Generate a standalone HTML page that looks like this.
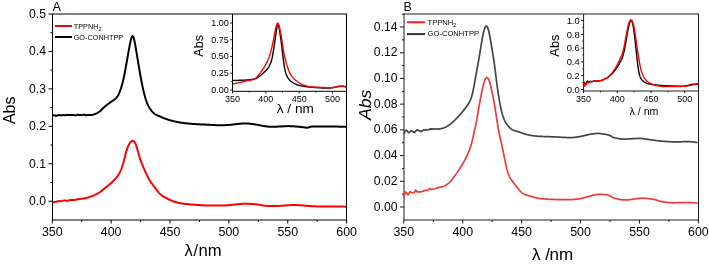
<!DOCTYPE html>
<html><head><meta charset="utf-8"><style>
html,body{margin:0;padding:0;background:#fff;width:709px;height:265px;overflow:hidden}
svg{display:block;will-change:transform}
</style></head><body>
<svg width="709" height="265" viewBox="0 0 709 265">
<rect width="709" height="265" fill="#fff"/>
<line x1="52" y1="14" x2="347" y2="14" stroke="#000" stroke-width="1"/>
<line x1="52" y1="220" x2="347" y2="220" stroke="#000" stroke-width="1"/>
<line x1="52.5" y1="14" x2="52.5" y2="220" stroke="#000" stroke-width="1"/>
<line x1="346.5" y1="14" x2="346.5" y2="220" stroke="#000" stroke-width="1"/>
<line x1="52.3" y1="220" x2="52.3" y2="223.5" stroke="#000" stroke-width="1"/>
<text x="52.3" y="236.1" font-size="12.4" text-anchor="middle" fill="#000" font-family="Liberation Sans, sans-serif" >350</text>
<line x1="81.73" y1="220" x2="81.73" y2="222" stroke="#000" stroke-width="1"/>
<line x1="111.16" y1="220" x2="111.16" y2="223.5" stroke="#000" stroke-width="1"/>
<text x="111.16" y="236.1" font-size="12.4" text-anchor="middle" fill="#000" font-family="Liberation Sans, sans-serif" >400</text>
<line x1="140.59" y1="220" x2="140.59" y2="222" stroke="#000" stroke-width="1"/>
<line x1="170.02" y1="220" x2="170.02" y2="223.5" stroke="#000" stroke-width="1"/>
<text x="170.02" y="236.1" font-size="12.4" text-anchor="middle" fill="#000" font-family="Liberation Sans, sans-serif" >450</text>
<line x1="199.45" y1="220" x2="199.45" y2="222" stroke="#000" stroke-width="1"/>
<line x1="228.88" y1="220" x2="228.88" y2="223.5" stroke="#000" stroke-width="1"/>
<text x="228.88" y="236.1" font-size="12.4" text-anchor="middle" fill="#000" font-family="Liberation Sans, sans-serif" >500</text>
<line x1="258.31" y1="220" x2="258.31" y2="222" stroke="#000" stroke-width="1"/>
<line x1="287.74" y1="220" x2="287.74" y2="223.5" stroke="#000" stroke-width="1"/>
<text x="287.74" y="236.1" font-size="12.4" text-anchor="middle" fill="#000" font-family="Liberation Sans, sans-serif" >550</text>
<line x1="317.17" y1="220" x2="317.17" y2="222" stroke="#000" stroke-width="1"/>
<line x1="346.6" y1="220" x2="346.6" y2="223.5" stroke="#000" stroke-width="1"/>
<text x="346.6" y="236.1" font-size="12.4" text-anchor="middle" fill="#000" font-family="Liberation Sans, sans-serif" >600</text>
<line x1="48.5" y1="201.2" x2="52.5" y2="201.2" stroke="#000" stroke-width="1"/>
<text x="46" y="205" font-size="12.2" text-anchor="end" fill="#000" font-family="Liberation Sans, sans-serif" >0.0</text>
<line x1="50.5" y1="182.48" x2="52.5" y2="182.48" stroke="#000" stroke-width="1"/>
<line x1="48.5" y1="163.76" x2="52.5" y2="163.76" stroke="#000" stroke-width="1"/>
<text x="46" y="167.56" font-size="12.2" text-anchor="end" fill="#000" font-family="Liberation Sans, sans-serif" >0.1</text>
<line x1="50.5" y1="145.04" x2="52.5" y2="145.04" stroke="#000" stroke-width="1"/>
<line x1="48.5" y1="126.32" x2="52.5" y2="126.32" stroke="#000" stroke-width="1"/>
<text x="46" y="130.12" font-size="12.2" text-anchor="end" fill="#000" font-family="Liberation Sans, sans-serif" >0.2</text>
<line x1="50.5" y1="107.6" x2="52.5" y2="107.6" stroke="#000" stroke-width="1"/>
<line x1="48.5" y1="88.88" x2="52.5" y2="88.88" stroke="#000" stroke-width="1"/>
<text x="46" y="92.68" font-size="12.2" text-anchor="end" fill="#000" font-family="Liberation Sans, sans-serif" >0.3</text>
<line x1="50.5" y1="70.16" x2="52.5" y2="70.16" stroke="#000" stroke-width="1"/>
<line x1="48.5" y1="51.44" x2="52.5" y2="51.44" stroke="#000" stroke-width="1"/>
<text x="46" y="55.24" font-size="12.2" text-anchor="end" fill="#000" font-family="Liberation Sans, sans-serif" >0.4</text>
<line x1="50.5" y1="32.72" x2="52.5" y2="32.72" stroke="#000" stroke-width="1"/>
<line x1="48.5" y1="14" x2="52.5" y2="14" stroke="#000" stroke-width="1"/>
<text x="46" y="17.8" font-size="12.2" text-anchor="end" fill="#000" font-family="Liberation Sans, sans-serif" >0.5</text>
<text x="52.4" y="10.6" font-size="12.5" text-anchor="start" fill="#000" font-family="Liberation Sans, sans-serif" >A</text>
<text transform="translate(15.0,110.3) rotate(-90)" font-size="16" text-anchor="middle" font-family="Liberation Sans, sans-serif">Abs</text>
<text x="184.6" y="255.8" font-size="16.4" text-anchor="start" fill="#000" font-family="Liberation Sans, sans-serif" >λ</text>
<text x="193.4" y="255.8" font-size="16.4" text-anchor="start" fill="#000" font-family="Liberation Sans, sans-serif" >/</text>
<text x="198.6" y="255.8" font-size="16.6" text-anchor="start" fill="#000" font-family="Liberation Sans, sans-serif" >nm</text>
<line x1="55" y1="26" x2="72" y2="26" stroke="#ff0000" stroke-width="2"/>
<line x1="55" y1="37" x2="72" y2="37" stroke="#000" stroke-width="2"/>
<text x="73.7" y="28.7" font-size="7.3" font-family="Liberation Sans, sans-serif">TPPNH<tspan font-size="5.2" dy="2">2</tspan></text>
<text x="73.7" y="39.6" font-size="7.3" text-anchor="start" fill="#000" font-family="Liberation Sans, sans-serif" >GO-CONHTPP</text>
<path d="M52.50,115.21 L53.00,115.24 L53.50,115.27 L54.00,115.30 L54.50,115.42 L55.00,115.56 L55.50,115.71 L56.00,115.72 L56.50,115.64 L57.00,115.56 L57.50,115.45 L58.00,115.30 L58.50,115.15 L59.00,115.04 L59.50,115.12 L60.00,115.20 L60.50,115.28 L61.00,115.28 L61.50,115.28 L62.00,115.28 L62.50,115.20 L63.00,115.09 L63.50,114.99 L64.00,115.04 L64.50,115.19 L65.00,115.34 L65.50,115.35 L66.00,115.16 L66.50,114.98 L67.00,114.84 L67.50,114.91 L68.00,114.97 L68.50,115.04 L69.00,115.06 L69.50,115.08 L70.00,115.11 L70.50,115.08 L71.00,115.04 L71.50,115.00 L72.00,115.00 L72.50,115.03 L73.00,115.05 L73.50,115.08 L74.00,115.11 L74.50,115.13 L75.00,115.17 L75.50,115.22 L76.00,115.27 L76.50,115.32 L77.00,115.13 L77.50,114.94 L78.00,114.75 L78.50,114.80 L79.00,114.90 L79.50,115.01 L80.00,115.07 L80.50,115.09 L81.00,115.11 L81.50,115.08 L82.00,114.98 L82.50,114.88 L83.00,114.78 L83.50,114.71 L84.00,114.63 L84.50,114.56 L85.00,114.84 L85.50,115.13 L86.00,115.41 L86.50,115.32 L87.00,115.14 L87.50,114.96 L88.00,114.90 L88.50,114.93 L89.00,114.95 L89.50,115.01 L90.00,115.09 L90.50,115.12 L91.00,115.08 L91.50,114.97 L92.00,114.86 L92.50,114.77 L93.00,114.66 L93.50,114.53 L94.00,114.38 L94.50,114.21 L95.00,114.01 L95.50,113.80 L96.00,113.57 L96.50,113.33 L97.00,113.08 L97.50,112.81 L98.00,112.52 L98.50,112.21 L99.00,111.87 L99.50,111.50 L100.00,111.10 L100.50,110.66 L101.00,110.20 L101.50,109.72 L102.00,109.23 L102.50,108.74 L103.00,108.26 L103.50,107.79 L104.00,107.33 L104.50,106.88 L105.00,106.44 L105.50,106.02 L106.00,105.61 L106.50,105.21 L107.00,104.82 L107.50,104.43 L108.00,104.06 L108.50,103.69 L109.00,103.32 L109.50,102.96 L110.00,102.61 L110.50,102.25 L111.00,101.90 L111.50,101.56 L112.00,101.21 L112.50,100.87 L113.00,100.53 L113.50,100.18 L114.00,99.82 L114.50,99.44 L115.00,99.03 L115.50,98.59 L116.00,98.10 L116.50,97.56 L117.00,96.96 L117.50,96.29 L118.00,95.51 L118.50,94.63 L119.00,93.62 L119.50,92.46 L120.00,91.17 L120.50,89.75 L121.00,88.23 L121.50,86.60 L122.00,84.87 L122.50,83.02 L123.00,81.03 L123.50,78.88 L124.00,76.58 L124.50,74.11 L125.00,71.51 L125.50,68.81 L126.00,66.04 L126.50,63.22 L127.00,60.37 L127.50,57.51 L128.00,54.67 L128.50,51.85 L129.00,49.08 L129.50,46.39 L130.00,43.83 L130.50,41.46 L131.00,39.38 L131.50,37.70 L132.00,36.56 L132.50,36.09 L133.00,36.34 L133.50,37.33 L134.00,38.96 L134.50,41.12 L135.00,43.67 L135.50,46.47 L136.00,49.41 L136.50,52.41 L137.00,55.43 L137.50,58.44 L138.00,61.44 L138.50,64.43 L139.00,67.40 L139.50,70.35 L140.00,73.25 L140.50,76.07 L141.00,78.81 L141.50,81.45 L142.00,83.98 L142.50,86.40 L143.00,88.70 L143.50,90.89 L144.00,92.96 L144.50,94.92 L145.00,96.76 L145.50,98.46 L146.00,100.03 L146.50,101.46 L147.00,102.77 L147.50,103.98 L148.00,105.08 L148.50,106.10 L149.00,107.04 L149.50,107.91 L150.00,108.70 L150.50,109.44 L151.00,110.11 L151.50,110.73 L152.00,111.32 L152.50,111.86 L153.00,112.37 L153.50,112.84 L154.00,113.28 L154.50,113.68 L155.00,114.05 L155.50,114.38 L156.00,114.69 L156.50,114.97 L157.00,115.22 L157.50,115.46 L158.00,115.68 L158.50,115.89 L159.00,116.10 L159.50,116.30 L160.00,116.51 L160.50,116.72 L161.00,116.93 L161.50,117.14 L162.00,117.35 L162.50,117.56 L163.00,117.76 L163.50,117.97 L164.00,118.17 L164.50,118.37 L165.00,118.56 L165.50,118.75 L166.00,118.94 L166.50,119.11 L167.00,119.28 L167.50,119.45 L168.00,119.61 L168.50,119.77 L169.00,119.92 L169.50,120.07 L170.00,120.22 L170.50,120.36 L171.00,120.50 L171.50,120.64 L172.00,120.77 L172.50,120.90 L173.00,121.03 L173.50,121.15 L174.00,121.27 L174.50,121.39 L175.00,121.50 L175.50,121.62 L176.00,121.73 L176.50,121.83 L177.00,121.94 L177.50,122.04 L178.00,122.14 L178.50,122.24 L179.00,122.33 L179.50,122.42 L180.00,122.51 L180.50,122.59 L181.00,122.66 L181.50,122.73 L182.00,122.80 L182.50,122.87 L183.00,122.93 L183.50,123.00 L184.00,123.06 L184.50,123.12 L185.00,123.17 L185.50,123.23 L186.00,123.29 L186.50,123.34 L187.00,123.39 L187.50,123.45 L188.00,123.50 L188.50,123.55 L189.00,123.59 L189.50,123.64 L190.00,123.69 L190.50,123.73 L191.00,123.77 L191.50,123.81 L192.00,123.86 L192.50,123.90 L193.00,123.93 L193.50,123.97 L194.00,124.01 L194.50,124.04 L195.00,124.08 L195.50,124.11 L196.00,124.14 L196.50,124.17 L197.00,124.20 L197.50,124.23 L198.00,124.26 L198.50,124.29 L199.00,124.32 L199.50,124.34 L200.00,124.37 L200.50,124.39 L201.00,124.42 L201.50,124.44 L202.00,124.47 L202.50,124.49 L203.00,124.51 L203.50,124.54 L204.00,124.56 L204.50,124.58 L205.00,124.60 L205.50,124.62 L206.00,124.65 L206.50,124.67 L207.00,124.69 L207.50,124.71 L208.00,124.74 L208.50,124.76 L209.00,124.78 L209.50,124.81 L210.00,124.83 L210.50,124.86 L211.00,124.89 L211.50,124.91 L212.00,124.94 L212.50,124.97 L213.00,125.00 L213.50,125.03 L214.00,125.06 L214.50,125.09 L215.00,125.11 L215.50,125.14 L216.00,125.16 L216.50,125.19 L217.00,125.21 L217.50,125.23 L218.00,125.25 L218.50,125.26 L219.00,125.27 L219.50,125.28 L220.00,125.29 L220.50,125.29 L221.00,125.29 L221.50,125.28 L222.00,125.28 L222.50,125.26 L223.00,125.25 L223.50,125.23 L224.00,125.21 L224.50,125.19 L225.00,125.16 L225.50,125.14 L226.00,125.11 L226.50,125.08 L227.00,125.04 L227.50,125.01 L228.00,124.98 L228.50,124.94 L229.00,124.91 L229.50,124.87 L230.00,124.83 L230.50,124.79 L231.00,124.75 L231.50,124.70 L232.00,124.65 L232.50,124.59 L233.00,124.53 L233.50,124.47 L234.00,124.40 L234.50,124.34 L235.00,124.27 L235.50,124.20 L236.00,124.14 L236.50,124.08 L237.00,124.01 L237.50,123.96 L238.00,123.90 L238.50,123.85 L239.00,123.81 L239.50,123.77 L240.00,123.72 L240.50,123.68 L241.00,123.65 L241.50,123.61 L242.00,123.57 L242.50,123.54 L243.00,123.51 L243.50,123.48 L244.00,123.46 L244.50,123.44 L245.00,123.43 L245.50,123.42 L246.00,123.42 L246.50,123.43 L247.00,123.45 L247.50,123.48 L248.00,123.51 L248.50,123.55 L249.00,123.60 L249.50,123.66 L250.00,123.71 L250.50,123.78 L251.00,123.84 L251.50,123.90 L252.00,123.97 L252.50,124.04 L253.00,124.10 L253.50,124.17 L254.00,124.24 L254.50,124.31 L255.00,124.39 L255.50,124.46 L256.00,124.54 L256.50,124.63 L257.00,124.71 L257.50,124.80 L258.00,124.90 L258.50,125.00 L259.00,125.10 L259.50,125.20 L260.00,125.31 L260.50,125.42 L261.00,125.52 L261.50,125.63 L262.00,125.73 L262.50,125.82 L263.00,125.91 L263.50,125.99 L264.00,126.07 L264.50,126.15 L265.00,126.22 L265.50,126.29 L266.00,126.35 L266.50,126.42 L267.00,126.48 L267.50,126.54 L268.00,126.59 L268.50,126.64 L269.00,126.68 L269.50,126.72 L270.00,126.74 L270.50,126.76 L271.00,126.78 L271.50,126.78 L272.00,126.78 L272.50,126.78 L273.00,126.77 L273.50,126.76 L274.00,126.75 L274.50,126.73 L275.00,126.71 L275.50,126.70 L276.00,126.68 L276.50,126.65 L277.00,126.63 L277.50,126.61 L278.00,126.59 L278.50,126.57 L279.00,126.54 L279.50,126.52 L280.00,126.50 L280.50,126.47 L281.00,126.45 L281.50,126.42 L282.00,126.39 L282.50,126.36 L283.00,126.33 L283.50,126.30 L284.00,126.27 L284.50,126.24 L285.00,126.21 L285.50,126.18 L286.00,126.16 L286.50,126.14 L287.00,126.13 L287.50,126.12 L288.00,126.11 L288.50,126.11 L289.00,126.12 L289.50,126.13 L290.00,126.14 L290.50,126.16 L291.00,126.18 L291.50,126.20 L292.00,126.23 L292.50,126.25 L293.00,126.29 L293.50,126.32 L294.00,126.35 L294.50,126.39 L295.00,126.43 L295.50,126.47 L296.00,126.51 L296.50,126.55 L297.00,126.59 L297.50,126.64 L298.00,126.68 L298.50,126.72 L299.00,126.77 L299.50,126.82 L300.00,126.87 L300.50,126.92 L301.00,126.98 L301.50,127.04 L302.00,127.10 L302.50,127.17 L303.00,127.23 L303.50,127.30 L304.00,127.36 L304.50,127.42 L305.00,127.48 L305.50,127.54 L306.00,127.59 L306.50,127.63 L307.00,127.65 L307.50,127.65 L308.00,127.59 L308.50,127.49 L309.00,127.33 L309.50,127.14 L310.00,126.95 L310.50,126.78 L311.00,126.66 L311.50,126.58 L312.00,126.53 L312.50,126.51 L313.00,126.50 L313.50,126.50 L314.00,126.50 L314.50,126.50 L315.00,126.50 L315.50,126.50 L316.00,126.50 L316.50,126.50 L317.00,126.50 L317.50,126.50 L318.00,126.50 L318.50,126.50 L319.00,126.50 L319.50,126.50 L320.00,126.50 L320.50,126.50 L321.00,126.50 L321.50,126.50 L322.00,126.50 L322.50,126.50 L323.00,126.50 L323.50,126.50 L324.00,126.50 L324.50,126.50 L325.00,126.50 L325.50,126.50 L326.00,126.50 L326.50,126.50 L327.00,126.50 L327.50,126.50 L328.00,126.50 L328.50,126.50 L329.00,126.50 L329.50,126.51 L330.00,126.51 L330.50,126.51 L331.00,126.52 L331.50,126.52 L332.00,126.52 L332.50,126.53 L333.00,126.54 L333.50,126.54 L334.00,126.55 L334.50,126.56 L335.00,126.56 L335.50,126.57 L336.00,126.58 L336.50,126.59 L337.00,126.60 L337.50,126.61 L338.00,126.62 L338.50,126.63 L339.00,126.64 L339.50,126.65 L340.00,126.66 L340.50,126.67 L341.00,126.68 L341.50,126.69 L342.00,126.70 L342.50,126.72 L343.00,126.73 L343.50,126.74 L344.00,126.75 L344.50,126.76 L345.00,126.77 L345.50,126.78 L346.00,126.79" fill="none" stroke="#000" stroke-width="2.0" stroke-linejoin="round"/>
<path d="M52.50,202.20 L53.00,202.18 L53.50,202.15 L54.00,202.11 L54.50,202.01 L55.00,201.90 L55.50,201.78 L56.00,201.67 L56.50,201.57 L57.00,201.47 L57.50,201.36 L58.00,201.26 L58.50,201.15 L59.00,201.07 L59.50,201.11 L60.00,201.14 L60.50,201.17 L61.00,201.13 L61.50,201.09 L62.00,201.04 L62.50,200.92 L63.00,200.77 L63.50,200.63 L64.00,200.54 L64.50,200.49 L65.00,200.44 L65.50,200.48 L66.00,200.66 L66.50,200.84 L67.00,200.95 L67.50,200.81 L68.00,200.66 L68.50,200.52 L69.00,200.35 L69.50,200.19 L70.00,200.02 L70.50,199.98 L71.00,199.96 L71.50,199.95 L72.00,199.99 L72.50,200.06 L73.00,200.13 L73.50,200.14 L74.00,200.05 L74.50,199.97 L75.00,199.89 L75.50,199.81 L76.00,199.73 L76.50,199.62 L77.00,199.43 L77.50,199.28 L78.00,199.15 L78.50,199.09 L79.00,199.04 L79.50,198.99 L80.00,198.93 L80.50,198.87 L81.00,198.81 L81.50,198.75 L82.00,198.69 L82.50,198.63 L83.00,198.57 L83.50,198.51 L84.00,198.43 L84.50,198.35 L85.00,198.26 L85.50,198.16 L86.00,198.04 L86.50,197.91 L87.00,197.77 L87.50,197.62 L88.00,197.47 L88.50,197.30 L89.00,197.14 L89.50,196.97 L90.00,196.80 L90.50,196.63 L91.00,196.46 L91.50,196.29 L92.00,196.12 L92.50,195.94 L93.00,195.76 L93.50,195.57 L94.00,195.37 L94.50,195.16 L95.00,194.94 L95.50,194.71 L96.00,194.47 L96.50,194.22 L97.00,193.95 L97.50,193.66 L98.00,193.37 L98.50,193.06 L99.00,192.75 L99.50,192.42 L100.00,192.08 L100.50,191.73 L101.00,191.37 L101.50,190.99 L102.00,190.60 L102.50,190.20 L103.00,189.79 L103.50,189.37 L104.00,188.95 L104.50,188.52 L105.00,188.10 L105.50,187.69 L106.00,187.28 L106.50,186.87 L107.00,186.48 L107.50,186.08 L108.00,185.68 L108.50,185.28 L109.00,184.88 L109.50,184.47 L110.00,184.05 L110.50,183.62 L111.00,183.18 L111.50,182.73 L112.00,182.27 L112.50,181.80 L113.00,181.32 L113.50,180.82 L114.00,180.30 L114.50,179.77 L115.00,179.22 L115.50,178.65 L116.00,178.05 L116.50,177.42 L117.00,176.77 L117.50,176.08 L118.00,175.36 L118.50,174.59 L119.00,173.77 L119.50,172.89 L120.00,171.94 L120.50,170.91 L121.00,169.79 L121.50,168.56 L122.00,167.22 L122.50,165.74 L123.00,164.13 L123.50,162.37 L124.00,160.47 L124.50,158.46 L125.00,156.40 L125.50,154.38 L126.00,152.46 L126.50,150.70 L127.00,149.12 L127.50,147.72 L128.00,146.48 L128.50,145.38 L129.00,144.40 L129.50,143.54 L130.00,142.80 L130.50,142.16 L131.00,141.65 L131.50,141.26 L132.00,140.99 L132.50,140.86 L133.00,140.88 L133.50,141.05 L134.00,141.40 L134.50,141.95 L135.00,142.72 L135.50,143.72 L136.00,144.97 L136.50,146.45 L137.00,148.11 L137.50,149.90 L138.00,151.74 L138.50,153.58 L139.00,155.34 L139.50,157.01 L140.00,158.57 L140.50,160.03 L141.00,161.41 L141.50,162.72 L142.00,163.99 L142.50,165.21 L143.00,166.40 L143.50,167.57 L144.00,168.71 L144.50,169.84 L145.00,170.95 L145.50,172.04 L146.00,173.11 L146.50,174.17 L147.00,175.20 L147.50,176.21 L148.00,177.19 L148.50,178.14 L149.00,179.06 L149.50,179.94 L150.00,180.78 L150.50,181.58 L151.00,182.35 L151.50,183.08 L152.00,183.78 L152.50,184.46 L153.00,185.11 L153.50,185.75 L154.00,186.38 L154.50,187.01 L155.00,187.65 L155.50,188.29 L156.00,188.95 L156.50,189.61 L157.00,190.28 L157.50,190.95 L158.00,191.60 L158.50,192.22 L159.00,192.81 L159.50,193.36 L160.00,193.86 L160.50,194.33 L161.00,194.75 L161.50,195.15 L162.00,195.52 L162.50,195.87 L163.00,196.21 L163.50,196.53 L164.00,196.83 L164.50,197.13 L165.00,197.41 L165.50,197.69 L166.00,197.96 L166.50,198.23 L167.00,198.49 L167.50,198.75 L168.00,199.00 L168.50,199.25 L169.00,199.49 L169.50,199.73 L170.00,199.96 L170.50,200.18 L171.00,200.40 L171.50,200.61 L172.00,200.82 L172.50,201.01 L173.00,201.20 L173.50,201.38 L174.00,201.55 L174.50,201.71 L175.00,201.87 L175.50,202.03 L176.00,202.18 L176.50,202.32 L177.00,202.46 L177.50,202.60 L178.00,202.72 L178.50,202.85 L179.00,202.96 L179.50,203.07 L180.00,203.17 L180.50,203.26 L181.00,203.35 L181.50,203.43 L182.00,203.51 L182.50,203.58 L183.00,203.65 L183.50,203.71 L184.00,203.78 L184.50,203.84 L185.00,203.90 L185.50,203.96 L186.00,204.01 L186.50,204.07 L187.00,204.12 L187.50,204.17 L188.00,204.22 L188.50,204.27 L189.00,204.31 L189.50,204.36 L190.00,204.40 L190.50,204.44 L191.00,204.48 L191.50,204.52 L192.00,204.56 L192.50,204.60 L193.00,204.64 L193.50,204.67 L194.00,204.71 L194.50,204.74 L195.00,204.78 L195.50,204.81 L196.00,204.85 L196.50,204.88 L197.00,204.92 L197.50,204.95 L198.00,204.98 L198.50,205.02 L199.00,205.05 L199.50,205.09 L200.00,205.12 L200.50,205.15 L201.00,205.18 L201.50,205.21 L202.00,205.24 L202.50,205.27 L203.00,205.30 L203.50,205.33 L204.00,205.35 L204.50,205.37 L205.00,205.40 L205.50,205.41 L206.00,205.43 L206.50,205.45 L207.00,205.46 L207.50,205.47 L208.00,205.48 L208.50,205.49 L209.00,205.49 L209.50,205.50 L210.00,205.50 L210.50,205.50 L211.00,205.50 L211.50,205.50 L212.00,205.50 L212.50,205.50 L213.00,205.50 L213.50,205.50 L214.00,205.50 L214.50,205.50 L215.00,205.50 L215.50,205.50 L216.00,205.50 L216.50,205.50 L217.00,205.50 L217.50,205.50 L218.00,205.50 L218.50,205.50 L219.00,205.50 L219.50,205.50 L220.00,205.50 L220.50,205.50 L221.00,205.50 L221.50,205.50 L222.00,205.50 L222.50,205.50 L223.00,205.49 L223.50,205.49 L224.00,205.48 L224.50,205.47 L225.00,205.45 L225.50,205.42 L226.00,205.39 L226.50,205.36 L227.00,205.32 L227.50,205.27 L228.00,205.23 L228.50,205.18 L229.00,205.12 L229.50,205.07 L230.00,205.01 L230.50,204.95 L231.00,204.90 L231.50,204.84 L232.00,204.78 L232.50,204.73 L233.00,204.68 L233.50,204.63 L234.00,204.58 L234.50,204.53 L235.00,204.48 L235.50,204.44 L236.00,204.40 L236.50,204.35 L237.00,204.31 L237.50,204.26 L238.00,204.21 L238.50,204.17 L239.00,204.12 L239.50,204.07 L240.00,204.03 L240.50,203.99 L241.00,203.94 L241.50,203.91 L242.00,203.87 L242.50,203.84 L243.00,203.81 L243.50,203.78 L244.00,203.76 L244.50,203.74 L245.00,203.73 L245.50,203.72 L246.00,203.72 L246.50,203.72 L247.00,203.73 L247.50,203.74 L248.00,203.76 L248.50,203.79 L249.00,203.81 L249.50,203.84 L250.00,203.88 L250.50,203.91 L251.00,203.95 L251.50,203.99 L252.00,204.02 L252.50,204.06 L253.00,204.10 L253.50,204.14 L254.00,204.18 L254.50,204.22 L255.00,204.26 L255.50,204.30 L256.00,204.35 L256.50,204.40 L257.00,204.45 L257.50,204.50 L258.00,204.56 L258.50,204.62 L259.00,204.68 L259.50,204.76 L260.00,204.84 L260.50,204.93 L261.00,205.03 L261.50,205.15 L262.00,205.26 L262.50,205.37 L263.00,205.47 L263.50,205.56 L264.00,205.64 L264.50,205.70 L265.00,205.76 L265.50,205.80 L266.00,205.84 L266.50,205.87 L267.00,205.91 L267.50,205.94 L268.00,205.96 L268.50,205.99 L269.00,206.01 L269.50,206.03 L270.00,206.05 L270.50,206.06 L271.00,206.07 L271.50,206.08 L272.00,206.09 L272.50,206.09 L273.00,206.09 L273.50,206.08 L274.00,206.08 L274.50,206.07 L275.00,206.05 L275.50,206.04 L276.00,206.02 L276.50,206.00 L277.00,205.98 L277.50,205.96 L278.00,205.93 L278.50,205.91 L279.00,205.88 L279.50,205.85 L280.00,205.83 L280.50,205.80 L281.00,205.77 L281.50,205.75 L282.00,205.72 L282.50,205.69 L283.00,205.66 L283.50,205.63 L284.00,205.60 L284.50,205.56 L285.00,205.53 L285.50,205.49 L286.00,205.45 L286.50,205.41 L287.00,205.37 L287.50,205.33 L288.00,205.29 L288.50,205.25 L289.00,205.21 L289.50,205.18 L290.00,205.14 L290.50,205.11 L291.00,205.09 L291.50,205.06 L292.00,205.05 L292.50,205.03 L293.00,205.02 L293.50,205.01 L294.00,205.01 L294.50,205.02 L295.00,205.03 L295.50,205.04 L296.00,205.05 L296.50,205.07 L297.00,205.09 L297.50,205.12 L298.00,205.14 L298.50,205.17 L299.00,205.20 L299.50,205.23 L300.00,205.26 L300.50,205.29 L301.00,205.33 L301.50,205.36 L302.00,205.39 L302.50,205.43 L303.00,205.46 L303.50,205.50 L304.00,205.54 L304.50,205.58 L305.00,205.63 L305.50,205.67 L306.00,205.72 L306.50,205.76 L307.00,205.81 L307.50,205.86 L308.00,205.90 L308.50,205.94 L309.00,205.98 L309.50,206.02 L310.00,206.06 L310.50,206.09 L311.00,206.12 L311.50,206.15 L312.00,206.18 L312.50,206.21 L313.00,206.23 L313.50,206.26 L314.00,206.29 L314.50,206.31 L315.00,206.34 L315.50,206.36 L316.00,206.38 L316.50,206.40 L317.00,206.42 L317.50,206.44 L318.00,206.46 L318.50,206.47 L319.00,206.48 L319.50,206.49 L320.00,206.49 L320.50,206.49 L321.00,206.50 L321.50,206.50 L322.00,206.49 L322.50,206.49 L323.00,206.49 L323.50,206.49 L324.00,206.48 L324.50,206.48 L325.00,206.48 L325.50,206.47 L326.00,206.47 L326.50,206.46 L327.00,206.46 L327.50,206.45 L328.00,206.45 L328.50,206.44 L329.00,206.44 L329.50,206.43 L330.00,206.43 L330.50,206.42 L331.00,206.42 L331.50,206.41 L332.00,206.41 L332.50,206.41 L333.00,206.41 L333.50,206.40 L334.00,206.40 L334.50,206.40 L335.00,206.40 L335.50,206.41 L336.00,206.41 L336.50,206.42 L337.00,206.42 L337.50,206.43 L338.00,206.44 L338.50,206.45 L339.00,206.46 L339.50,206.47 L340.00,206.49 L340.50,206.50 L341.00,206.51 L341.50,206.53 L342.00,206.55 L342.50,206.56 L343.00,206.58 L343.50,206.60 L344.00,206.62 L344.50,206.64 L345.00,206.65 L345.50,206.67 L346.00,206.68" fill="none" stroke="#ff0000" stroke-width="2.0" stroke-linejoin="round"/>
<line x1="232.5" y1="14" x2="232.5" y2="91.3" stroke="#000" stroke-width="1"/>
<line x1="232.5" y1="91.3" x2="346.5" y2="91.3" stroke="#000" stroke-width="1"/>
<line x1="232.6" y1="91.3" x2="232.6" y2="93.5" stroke="#000" stroke-width="0.9"/>
<text x="232.6" y="102.3" font-size="9.0" text-anchor="middle" fill="#000" font-family="Liberation Sans, sans-serif" >350</text>
<line x1="249.24" y1="91.3" x2="249.24" y2="92.6" stroke="#000" stroke-width="0.9"/>
<line x1="265.88" y1="91.3" x2="265.88" y2="93.5" stroke="#000" stroke-width="0.9"/>
<text x="265.88" y="102.3" font-size="9.0" text-anchor="middle" fill="#000" font-family="Liberation Sans, sans-serif" >400</text>
<line x1="282.52" y1="91.3" x2="282.52" y2="92.6" stroke="#000" stroke-width="0.9"/>
<line x1="299.16" y1="91.3" x2="299.16" y2="93.5" stroke="#000" stroke-width="0.9"/>
<text x="299.16" y="102.3" font-size="9.0" text-anchor="middle" fill="#000" font-family="Liberation Sans, sans-serif" >450</text>
<line x1="315.8" y1="91.3" x2="315.8" y2="92.6" stroke="#000" stroke-width="0.9"/>
<line x1="332.44" y1="91.3" x2="332.44" y2="93.5" stroke="#000" stroke-width="0.9"/>
<text x="332.44" y="102.3" font-size="9.0" text-anchor="middle" fill="#000" font-family="Liberation Sans, sans-serif" >500</text>
<line x1="230.2" y1="90" x2="232.5" y2="90" stroke="#000" stroke-width="0.9"/>
<text x="228.9" y="92.9" font-size="9.0" text-anchor="end" fill="#000" font-family="Liberation Sans, sans-serif" >0.00</text>
<line x1="231.2" y1="81.62" x2="232.5" y2="81.62" stroke="#000" stroke-width="0.9"/>
<line x1="230.2" y1="73.25" x2="232.5" y2="73.25" stroke="#000" stroke-width="0.9"/>
<text x="228.9" y="76.15" font-size="9.0" text-anchor="end" fill="#000" font-family="Liberation Sans, sans-serif" >0.25</text>
<line x1="231.2" y1="64.88" x2="232.5" y2="64.88" stroke="#000" stroke-width="0.9"/>
<line x1="230.2" y1="56.5" x2="232.5" y2="56.5" stroke="#000" stroke-width="0.9"/>
<text x="228.9" y="59.4" font-size="9.0" text-anchor="end" fill="#000" font-family="Liberation Sans, sans-serif" >0.50</text>
<line x1="231.2" y1="48.12" x2="232.5" y2="48.12" stroke="#000" stroke-width="0.9"/>
<line x1="230.2" y1="39.75" x2="232.5" y2="39.75" stroke="#000" stroke-width="0.9"/>
<text x="228.9" y="42.65" font-size="9.0" text-anchor="end" fill="#000" font-family="Liberation Sans, sans-serif" >0.75</text>
<line x1="231.2" y1="31.38" x2="232.5" y2="31.38" stroke="#000" stroke-width="0.9"/>
<line x1="230.2" y1="23" x2="232.5" y2="23" stroke="#000" stroke-width="0.9"/>
<text x="228.9" y="25.9" font-size="9.0" text-anchor="end" fill="#000" font-family="Liberation Sans, sans-serif" >1.00</text>
<text transform="translate(202.6,45.9) rotate(-90)" font-size="12.6" text-anchor="middle" font-family="Liberation Sans, sans-serif">Abs</text>
<text x="295.3" y="113.1" font-size="13.6" text-anchor="middle" fill="#000" font-family="Liberation Sans, sans-serif" >λ / nm</text>
<path d="M232.70,80.40 L233.20,80.40 L233.70,80.40 L234.20,80.39 L234.70,80.39 L235.20,80.38 L235.69,80.38 L236.19,80.37 L236.69,80.36 L237.19,80.35 L237.69,80.34 L238.19,80.33 L238.69,80.32 L239.19,80.30 L239.69,80.29 L240.19,80.28 L240.69,80.26 L241.19,80.24 L241.68,80.23 L242.18,80.21 L242.68,80.19 L243.18,80.17 L243.68,80.15 L244.18,80.13 L244.68,80.11 L245.18,80.09 L245.68,80.06 L246.18,80.04 L246.68,80.01 L247.17,79.97 L247.67,79.93 L248.17,79.89 L248.67,79.84 L249.17,79.79 L249.67,79.74 L250.17,79.68 L250.67,79.61 L251.17,79.54 L251.67,79.47 L252.17,79.39 L252.66,79.31 L253.16,79.22 L253.66,79.12 L254.16,79.02 L254.66,78.90 L255.16,78.75 L255.66,78.57 L256.16,78.35 L256.66,78.10 L257.16,77.82 L257.66,77.52 L258.16,77.20 L258.65,76.87 L259.15,76.52 L259.65,76.15 L260.15,75.75 L260.65,75.34 L261.15,74.91 L261.65,74.48 L262.15,74.05 L262.65,73.61 L263.15,73.18 L263.65,72.73 L264.14,72.28 L264.64,71.82 L265.14,71.34 L265.64,70.84 L266.14,70.33 L266.64,69.79 L267.14,69.22 L267.64,68.60 L268.14,67.92 L268.64,67.15 L269.14,66.28 L269.63,65.32 L270.13,64.24 L270.63,63.04 L271.13,61.66 L271.63,60.00 L272.13,57.98 L272.63,55.55 L273.13,52.73 L273.63,49.60 L274.13,46.26 L274.63,42.78 L275.13,39.26 L275.62,35.79 L276.12,32.40 L276.62,29.18 L277.12,26.50 L277.62,24.90 L278.12,24.76 L278.62,25.97 L279.12,28.14 L279.62,30.91 L280.12,34.07 L280.62,37.53 L281.11,41.25 L281.61,45.19 L282.11,49.32 L282.61,53.59 L283.11,57.85 L283.61,61.85 L284.11,65.33 L284.61,68.20 L285.11,70.52 L285.61,72.42 L286.11,73.99 L286.60,75.30 L287.10,76.38 L287.60,77.28 L288.10,78.07 L288.60,78.78 L289.10,79.41 L289.60,79.98 L290.10,80.51 L290.60,80.98 L291.10,81.41 L291.60,81.80 L292.10,82.16 L292.59,82.50 L293.09,82.81 L293.59,83.11 L294.09,83.38 L294.59,83.65 L295.09,83.90 L295.59,84.13 L296.09,84.35 L296.59,84.56 L297.09,84.75 L297.59,84.92 L298.08,85.08 L298.58,85.23 L299.08,85.36 L299.58,85.48 L300.08,85.59 L300.58,85.70 L301.08,85.81 L301.58,85.91 L302.08,86.01 L302.58,86.10 L303.08,86.19 L303.57,86.28 L304.07,86.36 L304.57,86.44 L305.07,86.52 L305.57,86.59 L306.07,86.66 L306.57,86.73 L307.07,86.80 L307.57,86.86 L308.07,86.92 L308.57,86.98 L309.07,87.03 L309.56,87.08 L310.06,87.13 L310.56,87.18 L311.06,87.22 L311.56,87.26 L312.06,87.30 L312.56,87.34 L313.06,87.38 L313.56,87.42 L314.06,87.46 L314.56,87.49 L315.05,87.53 L315.55,87.57 L316.05,87.60 L316.55,87.64 L317.05,87.67 L317.55,87.71 L318.05,87.74 L318.55,87.77 L319.05,87.80 L319.55,87.83 L320.05,87.86 L320.54,87.89 L321.04,87.91 L321.54,87.94 L322.04,87.96 L322.54,87.98 L323.04,88.00 L323.54,88.02 L324.04,88.04 L324.54,88.05 L325.04,88.06 L325.54,88.07 L326.04,88.08 L326.53,88.09 L327.03,88.09 L327.53,88.09 L328.03,88.09 L328.53,88.07 L329.03,88.05 L329.53,88.02 L330.03,87.98 L330.53,87.94 L331.03,87.88 L331.53,87.83 L332.02,87.76 L332.52,87.70 L333.02,87.63 L333.52,87.56 L334.02,87.48 L334.52,87.39 L335.02,87.28 L335.52,87.15 L336.02,87.02 L336.52,86.87 L337.02,86.73 L337.51,86.58 L338.01,86.45 L338.51,86.34 L339.01,86.25 L339.51,86.18 L340.01,86.14 L340.51,86.12 L341.01,86.12 L341.51,86.13 L342.01,86.15 L342.51,86.18 L343.01,86.22 L343.50,86.27 L344.00,86.33 L344.50,86.40 L345.00,86.48 L345.50,86.56 L346.00,86.63" fill="none" stroke="#000" stroke-width="1.4"/>
<path d="M232.70,83.94 L233.20,83.87 L233.70,83.79 L234.20,83.69 L234.70,83.58 L235.20,83.48 L235.69,83.37 L236.19,83.27 L236.69,83.16 L237.19,83.05 L237.69,82.94 L238.19,82.83 L238.69,82.73 L239.19,82.62 L239.69,82.51 L240.19,82.39 L240.69,82.28 L241.19,82.17 L241.68,82.06 L242.18,81.95 L242.68,81.83 L243.18,81.72 L243.68,81.60 L244.18,81.49 L244.68,81.38 L245.18,81.27 L245.68,81.16 L246.18,81.05 L246.68,80.96 L247.17,80.86 L247.67,80.77 L248.17,80.68 L248.67,80.58 L249.17,80.49 L249.67,80.39 L250.17,80.29 L250.67,80.18 L251.17,80.07 L251.67,79.94 L252.17,79.81 L252.66,79.66 L253.16,79.50 L253.66,79.33 L254.16,79.13 L254.66,78.88 L255.16,78.58 L255.66,78.20 L256.16,77.74 L256.66,77.21 L257.16,76.63 L257.66,76.03 L258.16,75.43 L258.65,74.83 L259.15,74.23 L259.65,73.62 L260.15,73.00 L260.65,72.37 L261.15,71.71 L261.65,71.04 L262.15,70.34 L262.65,69.62 L263.15,68.87 L263.65,68.10 L264.14,67.30 L264.64,66.46 L265.14,65.60 L265.64,64.70 L266.14,63.76 L266.64,62.77 L267.14,61.74 L267.64,60.65 L268.14,59.48 L268.64,58.23 L269.14,56.89 L269.63,55.44 L270.13,53.87 L270.63,52.17 L271.13,50.34 L271.63,48.38 L272.13,46.27 L272.63,44.01 L273.13,41.58 L273.63,38.99 L274.13,36.30 L274.63,33.63 L275.13,31.08 L275.62,28.75 L276.12,26.69 L276.62,24.97 L277.12,23.71 L277.62,23.13 L278.12,23.34 L278.62,24.29 L279.12,25.81 L279.62,27.74 L280.12,29.99 L280.62,32.56 L281.11,35.43 L281.61,38.57 L282.11,41.90 L282.61,45.24 L283.11,48.41 L283.61,51.31 L284.11,53.92 L284.61,56.31 L285.11,58.51 L285.61,60.54 L286.11,62.43 L286.60,64.17 L287.10,65.78 L287.60,67.28 L288.10,68.69 L288.60,70.01 L289.10,71.23 L289.60,72.36 L290.10,73.39 L290.60,74.32 L291.10,75.14 L291.60,75.89 L292.10,76.58 L292.59,77.22 L293.09,77.81 L293.59,78.37 L294.09,78.89 L294.59,79.37 L295.09,79.83 L295.59,80.26 L296.09,80.66 L296.59,81.04 L297.09,81.41 L297.59,81.76 L298.08,82.10 L298.58,82.43 L299.08,82.75 L299.58,83.06 L300.08,83.35 L300.58,83.63 L301.08,83.90 L301.58,84.16 L302.08,84.40 L302.58,84.62 L303.08,84.83 L303.57,85.03 L304.07,85.21 L304.57,85.38 L305.07,85.54 L305.57,85.69 L306.07,85.83 L306.57,85.97 L307.07,86.11 L307.57,86.24 L308.07,86.36 L308.57,86.47 L309.07,86.58 L309.56,86.67 L310.06,86.76 L310.56,86.83 L311.06,86.90 L311.56,86.95 L312.06,86.99 L312.56,87.03 L313.06,87.06 L313.56,87.09 L314.06,87.11 L314.56,87.13 L315.05,87.15 L315.55,87.17 L316.05,87.19 L316.55,87.20 L317.05,87.22 L317.55,87.23 L318.05,87.25 L318.55,87.27 L319.05,87.28 L319.55,87.30 L320.05,87.32 L320.54,87.35 L321.04,87.37 L321.54,87.39 L322.04,87.42 L322.54,87.44 L323.04,87.47 L323.54,87.49 L324.04,87.52 L324.54,87.54 L325.04,87.57 L325.54,87.59 L326.04,87.61 L326.53,87.63 L327.03,87.65 L327.53,87.66 L328.03,87.67 L328.53,87.68 L329.03,87.69 L329.53,87.69 L330.03,87.69 L330.53,87.67 L331.03,87.65 L331.53,87.61 L332.02,87.57 L332.52,87.52 L333.02,87.46 L333.52,87.40 L334.02,87.33 L334.52,87.26 L335.02,87.18 L335.52,87.09 L336.02,86.98 L336.52,86.86 L337.02,86.73 L337.51,86.59 L338.01,86.47 L338.51,86.35 L339.01,86.25 L339.51,86.18 L340.01,86.14 L340.51,86.13 L341.01,86.15 L341.51,86.18 L342.01,86.23 L342.51,86.31 L343.01,86.39 L343.50,86.50 L344.00,86.63 L344.50,86.77 L345.00,86.92 L345.50,87.07 L346.00,87.18" fill="none" stroke="#ff0000" stroke-width="1.4"/>
<line x1="403.5" y1="14" x2="699" y2="14" stroke="#1a1a1a" stroke-width="1"/>
<line x1="403.5" y1="220" x2="699" y2="220" stroke="#1a1a1a" stroke-width="1"/>
<line x1="404" y1="14" x2="404" y2="220" stroke="#1a1a1a" stroke-width="1"/>
<line x1="698.5" y1="14" x2="698.5" y2="220" stroke="#1a1a1a" stroke-width="1"/>
<line x1="403.8" y1="220" x2="403.8" y2="223.5" stroke="#1a1a1a" stroke-width="1"/>
<text x="403.8" y="236.1" font-size="12.4" text-anchor="middle" fill="#000" font-family="Liberation Sans, sans-serif" >350</text>
<line x1="433.26" y1="220" x2="433.26" y2="222" stroke="#1a1a1a" stroke-width="1"/>
<line x1="462.72" y1="220" x2="462.72" y2="223.5" stroke="#1a1a1a" stroke-width="1"/>
<text x="462.72" y="236.1" font-size="12.4" text-anchor="middle" fill="#000" font-family="Liberation Sans, sans-serif" >400</text>
<line x1="492.18" y1="220" x2="492.18" y2="222" stroke="#1a1a1a" stroke-width="1"/>
<line x1="521.64" y1="220" x2="521.64" y2="223.5" stroke="#1a1a1a" stroke-width="1"/>
<text x="521.64" y="236.1" font-size="12.4" text-anchor="middle" fill="#000" font-family="Liberation Sans, sans-serif" >450</text>
<line x1="551.1" y1="220" x2="551.1" y2="222" stroke="#1a1a1a" stroke-width="1"/>
<line x1="580.56" y1="220" x2="580.56" y2="223.5" stroke="#1a1a1a" stroke-width="1"/>
<text x="580.56" y="236.1" font-size="12.4" text-anchor="middle" fill="#000" font-family="Liberation Sans, sans-serif" >500</text>
<line x1="610.02" y1="220" x2="610.02" y2="222" stroke="#1a1a1a" stroke-width="1"/>
<line x1="639.48" y1="220" x2="639.48" y2="223.5" stroke="#1a1a1a" stroke-width="1"/>
<text x="639.48" y="236.1" font-size="12.4" text-anchor="middle" fill="#000" font-family="Liberation Sans, sans-serif" >550</text>
<line x1="668.94" y1="220" x2="668.94" y2="222" stroke="#1a1a1a" stroke-width="1"/>
<line x1="698.4" y1="220" x2="698.4" y2="223.5" stroke="#1a1a1a" stroke-width="1"/>
<text x="698.4" y="236.1" font-size="12.4" text-anchor="middle" fill="#000" font-family="Liberation Sans, sans-serif" >600</text>
<line x1="400" y1="207" x2="404" y2="207" stroke="#1a1a1a" stroke-width="1"/>
<text x="397.6" y="210.5" font-size="12.2" text-anchor="end" fill="#000" font-family="Liberation Sans, sans-serif" >0.00</text>
<line x1="402" y1="194.14" x2="404" y2="194.14" stroke="#1a1a1a" stroke-width="1"/>
<line x1="400" y1="181.29" x2="404" y2="181.29" stroke="#1a1a1a" stroke-width="1"/>
<text x="397.6" y="184.79" font-size="12.2" text-anchor="end" fill="#000" font-family="Liberation Sans, sans-serif" >0.02</text>
<line x1="402" y1="168.43" x2="404" y2="168.43" stroke="#1a1a1a" stroke-width="1"/>
<line x1="400" y1="155.57" x2="404" y2="155.57" stroke="#1a1a1a" stroke-width="1"/>
<text x="397.6" y="159.07" font-size="12.2" text-anchor="end" fill="#000" font-family="Liberation Sans, sans-serif" >0.04</text>
<line x1="402" y1="142.71" x2="404" y2="142.71" stroke="#1a1a1a" stroke-width="1"/>
<line x1="400" y1="129.86" x2="404" y2="129.86" stroke="#1a1a1a" stroke-width="1"/>
<text x="397.6" y="133.36" font-size="12.2" text-anchor="end" fill="#000" font-family="Liberation Sans, sans-serif" >0.06</text>
<line x1="402" y1="117" x2="404" y2="117" stroke="#1a1a1a" stroke-width="1"/>
<line x1="400" y1="104.14" x2="404" y2="104.14" stroke="#1a1a1a" stroke-width="1"/>
<text x="397.6" y="107.64" font-size="12.2" text-anchor="end" fill="#000" font-family="Liberation Sans, sans-serif" >0.08</text>
<line x1="402" y1="91.29" x2="404" y2="91.29" stroke="#1a1a1a" stroke-width="1"/>
<line x1="400" y1="78.43" x2="404" y2="78.43" stroke="#1a1a1a" stroke-width="1"/>
<text x="397.6" y="81.93" font-size="12.2" text-anchor="end" fill="#000" font-family="Liberation Sans, sans-serif" >0.10</text>
<line x1="402" y1="65.57" x2="404" y2="65.57" stroke="#1a1a1a" stroke-width="1"/>
<line x1="400" y1="52.72" x2="404" y2="52.72" stroke="#1a1a1a" stroke-width="1"/>
<text x="397.6" y="56.22" font-size="12.2" text-anchor="end" fill="#000" font-family="Liberation Sans, sans-serif" >0.12</text>
<line x1="402" y1="39.86" x2="404" y2="39.86" stroke="#1a1a1a" stroke-width="1"/>
<line x1="400" y1="27" x2="404" y2="27" stroke="#1a1a1a" stroke-width="1"/>
<text x="397.6" y="30.5" font-size="12.2" text-anchor="end" fill="#000" font-family="Liberation Sans, sans-serif" >0.14</text>
<line x1="402" y1="14.15" x2="404" y2="14.15" stroke="#1a1a1a" stroke-width="1"/>
<text x="403.6" y="10.6" font-size="12.5" text-anchor="start" fill="#000" font-family="Liberation Sans, sans-serif" >B</text>
<text transform="translate(371.0,104.8) rotate(-90) scale(1.045,1)" font-size="17" font-style="italic" text-anchor="middle" font-family="Liberation Sans, sans-serif">Abs</text>
<text x="532" y="260" font-size="17" text-anchor="start" fill="#000" font-family="Liberation Sans, sans-serif" >λ</text>
<text x="545.3" y="260" font-size="17" text-anchor="start" fill="#000" font-family="Liberation Sans, sans-serif" >/</text>
<text x="549.6" y="260" font-size="17" text-anchor="start" fill="#000" font-family="Liberation Sans, sans-serif" >nm</text>
<line x1="407" y1="22.2" x2="425" y2="22.2" stroke="#ff2020" stroke-width="2"/>
<line x1="407" y1="34.1" x2="425" y2="34.1" stroke="#333" stroke-width="2"/>
<text x="427.6" y="25.4" font-size="7.6" font-family="Liberation Sans, sans-serif">TPPNH<tspan font-size="5.3" dy="2">2</tspan></text>
<text x="427.6" y="36.3" font-size="7.6" text-anchor="start" fill="#000" font-family="Liberation Sans, sans-serif" >GO-CONHTPP</text>
<path d="M404.20,134.23 L404.60,131.34 L406.40,130.13 L408.70,132.80 L411.30,130.57 L414.30,132.64 L417.00,129.83 L419.20,130.63 L421.50,131.64 L423.40,129.93 L426.40,129.84 L428.70,129.63 L430.20,128.94 L433.20,129.14 L435.50,128.78 L437.70,129.15 L440.00,128.80 L440.50,128.73 L441.00,128.64 L441.50,128.53 L442.00,128.41 L442.50,128.26 L443.00,128.10 L443.50,127.94 L444.00,127.76 L444.50,127.56 L445.00,127.36 L445.50,127.14 L446.00,126.90 L446.50,126.65 L447.00,126.38 L447.50,126.10 L448.00,125.80 L448.50,125.48 L449.00,125.15 L449.50,124.81 L450.00,124.45 L450.50,124.07 L451.00,123.68 L451.50,123.27 L452.00,122.84 L452.50,122.39 L453.00,121.93 L453.50,121.46 L454.00,120.97 L454.50,120.48 L455.00,119.99 L455.50,119.48 L456.00,118.97 L456.50,118.45 L457.00,117.92 L457.50,117.38 L458.00,116.84 L458.50,116.28 L459.00,115.72 L459.50,115.16 L460.00,114.60 L460.50,114.03 L461.00,113.46 L461.50,112.88 L462.00,112.30 L462.50,111.71 L463.00,111.11 L463.50,110.50 L464.00,109.88 L464.50,109.24 L465.00,108.58 L465.50,107.91 L466.00,107.21 L466.50,106.50 L467.00,105.77 L467.50,105.02 L468.00,104.26 L468.50,103.48 L469.00,102.66 L469.50,101.81 L470.00,100.86 L470.50,99.80 L471.00,98.55 L471.50,97.08 L472.00,95.34 L472.50,93.35 L473.00,91.11 L473.50,88.67 L474.00,86.07 L474.50,83.35 L475.00,80.54 L475.50,77.70 L476.00,74.87 L476.50,72.07 L477.00,69.33 L477.50,66.62 L478.00,63.91 L478.50,61.13 L479.00,58.26 L479.50,55.28 L480.00,52.20 L480.50,49.08 L481.00,45.97 L481.50,42.92 L482.00,39.99 L482.50,37.23 L483.00,34.70 L483.50,32.43 L484.00,30.47 L484.50,28.83 L485.00,27.53 L485.50,26.62 L486.00,26.12 L486.50,26.08 L487.00,26.49 L487.50,27.34 L488.00,28.61 L488.50,30.27 L489.00,32.30 L489.50,34.66 L490.00,37.28 L490.50,40.10 L491.00,43.01 L491.50,45.95 L492.00,48.90 L492.50,51.89 L493.00,54.95 L493.50,58.17 L494.00,61.57 L494.50,65.19 L495.00,68.97 L495.50,72.88 L496.00,76.83 L496.50,80.74 L497.00,84.57 L497.50,88.28 L498.00,91.82 L498.50,95.19 L499.00,98.36 L499.50,101.32 L500.00,104.07 L500.50,106.60 L501.00,108.92 L501.50,111.03 L502.00,112.94 L502.50,114.67 L503.00,116.23 L503.50,117.63 L504.00,118.91 L504.50,120.07 L505.00,121.11 L505.50,122.07 L506.00,122.93 L506.50,123.72 L507.00,124.45 L507.50,125.12 L508.00,125.75 L508.50,126.35 L509.00,126.91 L509.50,127.44 L510.00,127.93 L510.50,128.38 L511.00,128.79 L511.50,129.16 L512.00,129.48 L512.50,129.76 L513.00,130.00 L513.50,130.22 L514.00,130.42 L514.50,130.60 L515.00,130.77 L515.50,130.93 L516.00,131.08 L516.50,131.23 L517.00,131.38 L517.50,131.52 L518.00,131.67 L518.50,131.83 L519.00,131.99 L519.50,132.15 L520.00,132.32 L520.50,132.50 L521.00,132.68 L521.50,132.86 L522.00,133.04 L522.50,133.23 L523.00,133.41 L523.50,133.58 L524.00,133.76 L524.50,133.92 L525.00,134.08 L525.50,134.24 L526.00,134.38 L526.50,134.51 L527.00,134.64 L527.50,134.76 L528.00,134.86 L528.50,134.97 L529.00,135.06 L529.50,135.16 L530.00,135.25 L530.50,135.34 L531.00,135.42 L531.50,135.50 L532.00,135.58 L532.50,135.65 L533.00,135.73 L533.50,135.79 L534.00,135.86 L534.50,135.92 L535.00,135.97 L535.50,136.03 L536.00,136.08 L536.50,136.12 L537.00,136.16 L537.50,136.20 L538.00,136.23 L538.50,136.27 L539.00,136.30 L539.50,136.32 L540.00,136.35 L540.50,136.38 L541.00,136.40 L541.50,136.43 L542.00,136.45 L542.50,136.47 L543.00,136.49 L543.50,136.51 L544.00,136.53 L544.50,136.55 L545.00,136.57 L545.50,136.59 L546.00,136.61 L546.50,136.62 L547.00,136.64 L547.50,136.66 L548.00,136.68 L548.50,136.69 L549.00,136.71 L549.50,136.72 L550.00,136.74 L550.50,136.76 L551.00,136.77 L551.50,136.79 L552.00,136.81 L552.50,136.83 L553.00,136.85 L553.50,136.87 L554.00,136.89 L554.50,136.91 L555.00,136.93 L555.50,136.95 L556.00,136.97 L556.50,137.00 L557.00,137.02 L557.50,137.05 L558.00,137.08 L558.50,137.10 L559.00,137.13 L559.50,137.16 L560.00,137.18 L560.50,137.21 L561.00,137.24 L561.50,137.26 L562.00,137.29 L562.50,137.32 L563.00,137.34 L563.50,137.37 L564.00,137.39 L564.50,137.42 L565.00,137.44 L565.50,137.46 L566.00,137.48 L566.50,137.50 L567.00,137.52 L567.50,137.53 L568.00,137.55 L568.50,137.56 L569.00,137.57 L569.50,137.58 L570.00,137.58 L570.50,137.59 L571.00,137.58 L571.50,137.58 L572.00,137.56 L572.50,137.54 L573.00,137.51 L573.50,137.48 L574.00,137.43 L574.50,137.38 L575.00,137.32 L575.50,137.26 L576.00,137.19 L576.50,137.12 L577.00,137.04 L577.50,136.96 L578.00,136.89 L578.50,136.81 L579.00,136.72 L579.50,136.64 L580.00,136.55 L580.50,136.46 L581.00,136.37 L581.50,136.26 L582.00,136.16 L582.50,136.04 L583.00,135.92 L583.50,135.80 L584.00,135.68 L584.50,135.55 L585.00,135.42 L585.50,135.30 L586.00,135.17 L586.50,135.05 L587.00,134.93 L587.50,134.82 L588.00,134.71 L588.50,134.61 L589.00,134.52 L589.50,134.43 L590.00,134.34 L590.50,134.26 L591.00,134.18 L591.50,134.10 L592.00,134.02 L592.50,133.94 L593.00,133.87 L593.50,133.80 L594.00,133.73 L594.50,133.67 L595.00,133.61 L595.50,133.56 L596.00,133.52 L596.50,133.48 L597.00,133.46 L597.50,133.44 L598.00,133.44 L598.50,133.45 L599.00,133.48 L599.50,133.52 L600.00,133.57 L600.50,133.63 L601.00,133.70 L601.50,133.77 L602.00,133.84 L602.50,133.92 L603.00,133.99 L603.50,134.06 L604.00,134.13 L604.50,134.21 L605.00,134.28 L605.50,134.35 L606.00,134.43 L606.50,134.52 L607.00,134.61 L607.50,134.72 L608.00,134.84 L608.50,134.99 L609.00,135.17 L609.50,135.37 L610.00,135.61 L610.50,135.87 L611.00,136.14 L611.50,136.42 L612.00,136.70 L612.50,136.96 L613.00,137.19 L613.50,137.40 L614.00,137.58 L614.50,137.74 L615.00,137.88 L615.50,138.00 L616.00,138.11 L616.50,138.21 L617.00,138.31 L617.50,138.41 L618.00,138.50 L618.50,138.58 L619.00,138.66 L619.50,138.74 L620.00,138.80 L620.50,138.86 L621.00,138.92 L621.50,138.96 L622.00,139.00 L622.50,139.03 L623.00,139.06 L623.50,139.07 L624.00,139.08 L624.50,139.08 L625.00,139.08 L625.50,139.07 L626.00,139.06 L626.50,139.04 L627.00,139.02 L627.50,139.00 L628.00,138.98 L628.50,138.95 L629.00,138.92 L629.50,138.89 L630.00,138.86 L630.50,138.83 L631.00,138.80 L631.50,138.77 L632.00,138.73 L632.50,138.70 L633.00,138.67 L633.50,138.64 L634.00,138.61 L634.50,138.58 L635.00,138.55 L635.50,138.52 L636.00,138.50 L636.50,138.48 L637.00,138.46 L637.50,138.44 L638.00,138.43 L638.50,138.42 L639.00,138.42 L639.50,138.42 L640.00,138.43 L640.50,138.45 L641.00,138.47 L641.50,138.50 L642.00,138.54 L642.50,138.59 L643.00,138.64 L643.50,138.70 L644.00,138.77 L644.50,138.84 L645.00,138.91 L645.50,138.99 L646.00,139.06 L646.50,139.14 L647.00,139.22 L647.50,139.30 L648.00,139.38 L648.50,139.46 L649.00,139.54 L649.50,139.61 L650.00,139.69 L650.50,139.76 L651.00,139.82 L651.50,139.89 L652.00,139.96 L652.50,140.02 L653.00,140.09 L653.50,140.16 L654.00,140.23 L654.50,140.30 L655.00,140.37 L655.50,140.44 L656.00,140.51 L656.50,140.58 L657.00,140.64 L657.50,140.71 L658.00,140.77 L658.50,140.83 L659.00,140.89 L659.50,140.95 L660.00,141.00 L660.50,141.05 L661.00,141.10 L661.50,141.14 L662.00,141.19 L662.50,141.23 L663.00,141.26 L663.50,141.30 L664.00,141.34 L664.50,141.37 L665.00,141.41 L665.50,141.44 L666.00,141.48 L666.50,141.51 L667.00,141.54 L667.50,141.57 L668.00,141.61 L668.50,141.64 L669.00,141.66 L669.50,141.69 L670.00,141.72 L670.50,141.74 L671.00,141.77 L671.50,141.79 L672.00,141.81 L672.50,141.83 L673.00,141.84 L673.50,141.86 L674.00,141.87 L674.50,141.88 L675.00,141.89 L675.50,141.89 L676.00,141.89 L676.50,141.89 L677.00,141.89 L677.50,141.88 L678.00,141.87 L678.50,141.86 L679.00,141.85 L679.50,141.83 L680.00,141.82 L680.50,141.80 L681.00,141.78 L681.50,141.76 L682.00,141.74 L682.50,141.72 L683.00,141.70 L683.50,141.69 L684.00,141.67 L684.50,141.65 L685.00,141.64 L685.50,141.63 L686.00,141.62 L686.50,141.62 L687.00,141.61 L687.50,141.61 L688.00,141.62 L688.50,141.63 L689.00,141.65 L689.50,141.67 L690.00,141.70 L690.50,141.73 L691.00,141.77 L691.50,141.82 L692.00,141.86 L692.50,141.92 L693.00,141.97 L693.50,142.03 L694.00,142.09 L694.50,142.16 L695.00,142.23 L695.50,142.30 L696.00,142.36 L696.50,142.43 L697.00,142.48 L697.50,142.53" fill="none" stroke="#444" stroke-width="1.7" stroke-linejoin="round"/>
<path d="M404.20,196.48 L404.90,191.66 L406.50,193.12 L408.30,194.81 L409.80,191.72 L412.10,192.84 L414.30,192.52 L415.80,189.98 L417.00,191.78 L421.10,191.95 L424.20,190.64 L427.90,190.19 L429.80,188.60 L430.90,189.44 L434.70,188.74 L440.00,187.19 L440.50,187.12 L441.00,187.03 L441.50,186.91 L442.00,186.78 L442.50,186.62 L443.00,186.45 L443.50,186.26 L444.00,186.05 L444.50,185.82 L445.00,185.58 L445.50,185.32 L446.00,185.04 L446.50,184.74 L447.00,184.42 L447.50,184.07 L448.00,183.69 L448.50,183.28 L449.00,182.84 L449.50,182.37 L450.00,181.88 L450.50,181.36 L451.00,180.82 L451.50,180.25 L452.00,179.65 L452.50,179.03 L453.00,178.38 L453.50,177.71 L454.00,177.02 L454.50,176.31 L455.00,175.59 L455.50,174.86 L456.00,174.11 L456.50,173.36 L457.00,172.61 L457.50,171.86 L458.00,171.11 L458.50,170.35 L459.00,169.60 L459.50,168.84 L460.00,168.08 L460.50,167.31 L461.00,166.54 L461.50,165.75 L462.00,164.95 L462.50,164.13 L463.00,163.29 L463.50,162.44 L464.00,161.56 L464.50,160.66 L465.00,159.74 L465.50,158.79 L466.00,157.82 L466.50,156.82 L467.00,155.79 L467.50,154.72 L468.00,153.60 L468.50,152.42 L469.00,151.18 L469.50,149.87 L470.00,148.45 L470.50,146.93 L471.00,145.29 L471.50,143.51 L472.00,141.61 L472.50,139.58 L473.00,137.44 L473.50,135.23 L474.00,132.97 L474.50,130.70 L475.00,128.41 L475.50,126.08 L476.00,123.65 L476.50,121.07 L477.00,118.34 L477.50,115.48 L478.00,112.54 L478.50,109.59 L479.00,106.67 L479.50,103.83 L480.00,101.08 L480.50,98.41 L481.00,95.83 L481.50,93.33 L482.00,90.93 L482.50,88.63 L483.00,86.46 L483.50,84.47 L484.00,82.70 L484.50,81.16 L485.00,79.87 L485.50,78.86 L486.00,78.12 L486.50,77.69 L487.00,77.57 L487.50,77.77 L488.00,78.28 L488.50,79.09 L489.00,80.18 L489.50,81.55 L490.00,83.18 L490.50,85.06 L491.00,87.14 L491.50,89.37 L492.00,91.71 L492.50,94.12 L493.00,96.59 L493.50,99.14 L494.00,101.81 L494.50,104.64 L495.00,107.63 L495.50,110.80 L496.00,114.10 L496.50,117.45 L497.00,120.78 L497.50,123.98 L498.00,127.01 L498.50,129.83 L499.00,132.45 L499.50,134.90 L500.00,137.22 L500.50,139.47 L501.00,141.67 L501.50,143.87 L502.00,146.10 L502.50,148.40 L503.00,150.76 L503.50,153.20 L504.00,155.68 L504.50,158.17 L505.00,160.62 L505.50,163.01 L506.00,165.29 L506.50,167.42 L507.00,169.39 L507.50,171.17 L508.00,172.78 L508.50,174.20 L509.00,175.47 L509.50,176.58 L510.00,177.56 L510.50,178.44 L511.00,179.24 L511.50,179.98 L512.00,180.68 L512.50,181.37 L513.00,182.05 L513.50,182.71 L514.00,183.37 L514.50,184.02 L515.00,184.66 L515.50,185.30 L516.00,185.93 L516.50,186.57 L517.00,187.20 L517.50,187.84 L518.00,188.48 L518.50,189.12 L519.00,189.75 L519.50,190.35 L520.00,190.93 L520.50,191.48 L521.00,191.98 L521.50,192.44 L522.00,192.84 L522.50,193.20 L523.00,193.52 L523.50,193.80 L524.00,194.05 L524.50,194.27 L525.00,194.48 L525.50,194.68 L526.00,194.86 L526.50,195.03 L527.00,195.20 L527.50,195.35 L528.00,195.51 L528.50,195.65 L529.00,195.80 L529.50,195.94 L530.00,196.09 L530.50,196.23 L531.00,196.38 L531.50,196.53 L532.00,196.67 L532.50,196.82 L533.00,196.96 L533.50,197.11 L534.00,197.25 L534.50,197.39 L535.00,197.53 L535.50,197.66 L536.00,197.78 L536.50,197.90 L537.00,198.02 L537.50,198.13 L538.00,198.23 L538.50,198.32 L539.00,198.40 L539.50,198.48 L540.00,198.55 L540.50,198.61 L541.00,198.66 L541.50,198.72 L542.00,198.76 L542.50,198.81 L543.00,198.86 L543.50,198.90 L544.00,198.94 L544.50,198.98 L545.00,199.02 L545.50,199.06 L546.00,199.10 L546.50,199.13 L547.00,199.17 L547.50,199.20 L548.00,199.23 L548.50,199.26 L549.00,199.29 L549.50,199.31 L550.00,199.34 L550.50,199.36 L551.00,199.38 L551.50,199.40 L552.00,199.42 L552.50,199.44 L553.00,199.46 L553.50,199.47 L554.00,199.49 L554.50,199.50 L555.00,199.51 L555.50,199.52 L556.00,199.54 L556.50,199.55 L557.00,199.56 L557.50,199.57 L558.00,199.58 L558.50,199.59 L559.00,199.60 L559.50,199.61 L560.00,199.62 L560.50,199.62 L561.00,199.63 L561.50,199.64 L562.00,199.65 L562.50,199.65 L563.00,199.66 L563.50,199.67 L564.00,199.67 L564.50,199.68 L565.00,199.68 L565.50,199.69 L566.00,199.69 L566.50,199.69 L567.00,199.69 L567.50,199.70 L568.00,199.69 L568.50,199.69 L569.00,199.69 L569.50,199.68 L570.00,199.66 L570.50,199.65 L571.00,199.63 L571.50,199.60 L572.00,199.57 L572.50,199.54 L573.00,199.51 L573.50,199.47 L574.00,199.43 L574.50,199.38 L575.00,199.34 L575.50,199.29 L576.00,199.24 L576.50,199.19 L577.00,199.14 L577.50,199.08 L578.00,199.02 L578.50,198.96 L579.00,198.88 L579.50,198.80 L580.00,198.72 L580.50,198.62 L581.00,198.51 L581.50,198.40 L582.00,198.28 L582.50,198.15 L583.00,198.02 L583.50,197.89 L584.00,197.75 L584.50,197.60 L585.00,197.46 L585.50,197.31 L586.00,197.17 L586.50,197.03 L587.00,196.89 L587.50,196.75 L588.00,196.61 L588.50,196.48 L589.00,196.35 L589.50,196.22 L590.00,196.10 L590.50,195.97 L591.00,195.84 L591.50,195.70 L592.00,195.57 L592.50,195.43 L593.00,195.30 L593.50,195.17 L594.00,195.04 L594.50,194.92 L595.00,194.81 L595.50,194.71 L596.00,194.63 L596.50,194.56 L597.00,194.50 L597.50,194.46 L598.00,194.44 L598.50,194.42 L599.00,194.42 L599.50,194.42 L600.00,194.42 L600.50,194.43 L601.00,194.44 L601.50,194.46 L602.00,194.47 L602.50,194.49 L603.00,194.51 L603.50,194.54 L604.00,194.57 L604.50,194.60 L605.00,194.64 L605.50,194.69 L606.00,194.75 L606.50,194.81 L607.00,194.88 L607.50,194.97 L608.00,195.08 L608.50,195.21 L609.00,195.38 L609.50,195.59 L610.00,195.83 L610.50,196.11 L611.00,196.42 L611.50,196.73 L612.00,197.04 L612.50,197.34 L613.00,197.61 L613.50,197.86 L614.00,198.06 L614.50,198.24 L615.00,198.40 L615.50,198.54 L616.00,198.67 L616.50,198.79 L617.00,198.91 L617.50,199.02 L618.00,199.12 L618.50,199.22 L619.00,199.32 L619.50,199.41 L620.00,199.50 L620.50,199.58 L621.00,199.65 L621.50,199.72 L622.00,199.78 L622.50,199.83 L623.00,199.87 L623.50,199.91 L624.00,199.94 L624.50,199.96 L625.00,199.97 L625.50,199.97 L626.00,199.97 L626.50,199.95 L627.00,199.93 L627.50,199.90 L628.00,199.87 L628.50,199.82 L629.00,199.77 L629.50,199.72 L630.00,199.66 L630.50,199.60 L631.00,199.53 L631.50,199.46 L632.00,199.38 L632.50,199.31 L633.00,199.23 L633.50,199.15 L634.00,199.08 L634.50,199.00 L635.00,198.92 L635.50,198.85 L636.00,198.77 L636.50,198.70 L637.00,198.63 L637.50,198.56 L638.00,198.50 L638.50,198.45 L639.00,198.40 L639.50,198.35 L640.00,198.31 L640.50,198.28 L641.00,198.25 L641.50,198.23 L642.00,198.22 L642.50,198.22 L643.00,198.22 L643.50,198.23 L644.00,198.25 L644.50,198.27 L645.00,198.30 L645.50,198.33 L646.00,198.37 L646.50,198.41 L647.00,198.45 L647.50,198.50 L648.00,198.56 L648.50,198.61 L649.00,198.67 L649.50,198.73 L650.00,198.79 L650.50,198.86 L651.00,198.93 L651.50,199.00 L652.00,199.07 L652.50,199.15 L653.00,199.23 L653.50,199.31 L654.00,199.41 L654.50,199.51 L655.00,199.63 L655.50,199.76 L656.00,199.91 L656.50,200.06 L657.00,200.22 L657.50,200.38 L658.00,200.55 L658.50,200.71 L659.00,200.88 L659.50,201.03 L660.00,201.18 L660.50,201.32 L661.00,201.44 L661.50,201.55 L662.00,201.65 L662.50,201.74 L663.00,201.82 L663.50,201.90 L664.00,201.97 L664.50,202.05 L665.00,202.12 L665.50,202.18 L666.00,202.25 L666.50,202.31 L667.00,202.37 L667.50,202.43 L668.00,202.48 L668.50,202.53 L669.00,202.58 L669.50,202.62 L670.00,202.66 L670.50,202.69 L671.00,202.72 L671.50,202.74 L672.00,202.76 L672.50,202.78 L673.00,202.79 L673.50,202.79 L674.00,202.79 L674.50,202.79 L675.00,202.78 L675.50,202.78 L676.00,202.77 L676.50,202.76 L677.00,202.75 L677.50,202.73 L678.00,202.72 L678.50,202.71 L679.00,202.69 L679.50,202.68 L680.00,202.66 L680.50,202.65 L681.00,202.63 L681.50,202.61 L682.00,202.60 L682.50,202.59 L683.00,202.57 L683.50,202.56 L684.00,202.55 L684.50,202.54 L685.00,202.53 L685.50,202.52 L686.00,202.51 L686.50,202.51 L687.00,202.51 L687.50,202.51 L688.00,202.52 L688.50,202.52 L689.00,202.54 L689.50,202.55 L690.00,202.57 L690.50,202.60 L691.00,202.62 L691.50,202.66 L692.00,202.69 L692.50,202.73 L693.00,202.77 L693.50,202.81 L694.00,202.85 L694.50,202.90 L695.00,202.94 L695.50,202.99 L696.00,203.04 L696.50,203.08 L697.00,203.12 L697.50,203.15" fill="none" stroke="#f03a3a" stroke-width="1.7" stroke-linejoin="round"/>
<line x1="583.6" y1="14" x2="583.6" y2="91" stroke="#222" stroke-width="1"/>
<line x1="583.6" y1="91" x2="698.5" y2="91" stroke="#222" stroke-width="1"/>
<line x1="583.6" y1="91" x2="583.6" y2="93.2" stroke="#000" stroke-width="0.9"/>
<text x="583.6" y="101.9" font-size="9.0" text-anchor="middle" fill="#000" font-family="Liberation Sans, sans-serif" >350</text>
<line x1="600.45" y1="91" x2="600.45" y2="92.3" stroke="#000" stroke-width="0.9"/>
<line x1="617.3" y1="91" x2="617.3" y2="93.2" stroke="#000" stroke-width="0.9"/>
<text x="617.3" y="101.9" font-size="9.0" text-anchor="middle" fill="#000" font-family="Liberation Sans, sans-serif" >400</text>
<line x1="634.15" y1="91" x2="634.15" y2="92.3" stroke="#000" stroke-width="0.9"/>
<line x1="651" y1="91" x2="651" y2="93.2" stroke="#000" stroke-width="0.9"/>
<text x="651" y="101.9" font-size="9.0" text-anchor="middle" fill="#000" font-family="Liberation Sans, sans-serif" >450</text>
<line x1="667.85" y1="91" x2="667.85" y2="92.3" stroke="#000" stroke-width="0.9"/>
<line x1="684.7" y1="91" x2="684.7" y2="93.2" stroke="#000" stroke-width="0.9"/>
<text x="684.7" y="101.9" font-size="9.0" text-anchor="middle" fill="#000" font-family="Liberation Sans, sans-serif" >500</text>
<line x1="581.1" y1="89.5" x2="583.6" y2="89.5" stroke="#000" stroke-width="0.9"/>
<text x="579.7" y="92.7" font-size="9.4" text-anchor="end" fill="#000" font-family="Liberation Sans, sans-serif" >0.0</text>
<line x1="582.3" y1="82.6" x2="583.6" y2="82.6" stroke="#000" stroke-width="0.9"/>
<line x1="581.1" y1="75.7" x2="583.6" y2="75.7" stroke="#000" stroke-width="0.9"/>
<text x="579.7" y="78.9" font-size="9.4" text-anchor="end" fill="#000" font-family="Liberation Sans, sans-serif" >0.2</text>
<line x1="582.3" y1="68.8" x2="583.6" y2="68.8" stroke="#000" stroke-width="0.9"/>
<line x1="581.1" y1="61.9" x2="583.6" y2="61.9" stroke="#000" stroke-width="0.9"/>
<text x="579.7" y="65.1" font-size="9.4" text-anchor="end" fill="#000" font-family="Liberation Sans, sans-serif" >0.4</text>
<line x1="582.3" y1="55" x2="583.6" y2="55" stroke="#000" stroke-width="0.9"/>
<line x1="581.1" y1="48.1" x2="583.6" y2="48.1" stroke="#000" stroke-width="0.9"/>
<text x="579.7" y="51.3" font-size="9.4" text-anchor="end" fill="#000" font-family="Liberation Sans, sans-serif" >0.6</text>
<line x1="582.3" y1="41.2" x2="583.6" y2="41.2" stroke="#000" stroke-width="0.9"/>
<line x1="581.1" y1="34.3" x2="583.6" y2="34.3" stroke="#000" stroke-width="0.9"/>
<text x="579.7" y="37.5" font-size="9.4" text-anchor="end" fill="#000" font-family="Liberation Sans, sans-serif" >0.8</text>
<line x1="582.3" y1="27.4" x2="583.6" y2="27.4" stroke="#000" stroke-width="0.9"/>
<line x1="581.1" y1="20.5" x2="583.6" y2="20.5" stroke="#000" stroke-width="0.9"/>
<text x="579.7" y="23.7" font-size="9.4" text-anchor="end" fill="#000" font-family="Liberation Sans, sans-serif" >1.0</text>
<text transform="translate(559.4,45.6) rotate(-90)" font-size="12.8" text-anchor="middle" font-family="Liberation Sans, sans-serif">Abs</text>
<text x="644" y="114.6" font-size="10.6" text-anchor="middle" fill="#000" font-family="Liberation Sans, sans-serif" >λ / nm</text>
<path d="M584.10,81.60 L584.40,85.00 L586.10,83.00 L587.50,80.90 L588.80,82.60 L590.20,81.20 L591.60,81.90 L594.00,81.00 L597.00,81.17 L597.50,81.14 L598.00,81.10 L598.50,81.04 L599.00,80.96 L599.50,80.88 L600.00,80.78 L600.50,80.67 L601.00,80.54 L601.50,80.40 L602.00,80.24 L602.50,80.06 L603.00,79.86 L603.50,79.66 L604.00,79.45 L604.50,79.22 L605.00,78.98 L605.50,78.73 L606.00,78.47 L606.50,78.18 L607.00,77.88 L607.50,77.55 L608.00,77.21 L608.50,76.86 L609.00,76.48 L609.50,76.09 L610.00,75.68 L610.50,75.25 L611.00,74.79 L611.50,74.30 L612.00,73.77 L612.50,73.21 L613.00,72.63 L613.50,72.03 L614.00,71.42 L614.50,70.79 L615.00,70.15 L615.50,69.50 L616.00,68.84 L616.50,68.16 L617.00,67.45 L617.50,66.71 L618.00,65.94 L618.50,65.14 L619.00,64.28 L619.50,63.39 L620.00,62.45 L620.50,61.49 L621.00,60.50 L621.50,59.45 L622.00,58.30 L622.50,56.99 L623.00,55.46 L623.50,53.69 L624.00,51.68 L624.50,49.42 L625.00,46.93 L625.50,44.20 L626.00,41.30 L626.50,38.28 L627.00,35.24 L627.50,32.30 L628.00,29.57 L628.50,27.13 L629.00,25.01 L629.50,23.23 L630.00,21.80 L630.50,20.79 L631.00,20.30 L631.50,20.44 L632.00,21.27 L632.50,22.81 L633.00,25.07 L633.50,28.05 L634.00,31.63 L634.50,35.66 L635.00,39.98 L635.50,44.49 L636.00,49.08 L636.50,53.71 L637.00,58.28 L637.50,62.67 L638.00,66.65 L638.50,70.04 L639.00,72.77 L639.50,74.89 L640.00,76.50 L640.50,77.72 L641.00,78.65 L641.50,79.39 L642.00,79.99 L642.50,80.50 L643.00,80.96 L643.50,81.37 L644.00,81.74 L644.50,82.09 L645.00,82.41 L645.50,82.69 L646.00,82.95 L646.50,83.17 L647.00,83.37 L647.50,83.54 L648.00,83.69 L648.50,83.83 L649.00,83.95 L649.50,84.06 L650.00,84.17 L650.50,84.26 L651.00,84.35 L651.50,84.44 L652.00,84.52 L652.50,84.59 L653.00,84.66 L653.50,84.72 L654.00,84.79 L654.50,84.84 L655.00,84.90 L655.50,84.95 L656.00,85.00 L656.50,85.05 L657.00,85.10 L657.50,85.14 L658.00,85.19 L658.50,85.23 L659.00,85.27 L659.50,85.31 L660.00,85.35 L660.50,85.39 L661.00,85.43 L661.50,85.46 L662.00,85.50 L662.50,85.53 L663.00,85.56 L663.50,85.59 L664.00,85.62 L664.50,85.65 L665.00,85.68 L665.50,85.70 L666.00,85.73 L666.50,85.75 L667.00,85.77 L667.50,85.79 L668.00,85.81 L668.50,85.83 L669.00,85.85 L669.50,85.87 L670.00,85.89 L670.50,85.91 L671.00,85.93 L671.50,85.95 L672.00,85.96 L672.50,85.98 L673.00,86.00 L673.50,86.02 L674.00,86.03 L674.50,86.05 L675.00,86.07 L675.50,86.08 L676.00,86.09 L676.50,86.11 L677.00,86.12 L677.50,86.13 L678.00,86.14 L678.50,86.15 L679.00,86.16 L679.50,86.17 L680.00,86.18 L680.50,86.19 L681.00,86.19 L681.50,86.19 L682.00,86.19 L682.50,86.19 L683.00,86.18 L683.50,86.15 L684.00,86.10 L684.50,86.04 L685.00,85.96 L685.50,85.88 L686.00,85.79 L686.50,85.69 L687.00,85.59 L687.50,85.48 L688.00,85.36 L688.50,85.22 L689.00,85.08 L689.50,84.94 L690.00,84.80 L690.50,84.66 L691.00,84.54 L691.50,84.44 L692.00,84.36 L692.50,84.30 L693.00,84.25 L693.50,84.20 L694.00,84.17 L694.50,84.13 L695.00,84.10 L695.50,84.07 L696.00,84.05 L696.50,84.03 L697.00,84.02 L697.50,84.01 L698.00,84.00" fill="none" stroke="#000" stroke-width="1.4" stroke-linejoin="round"/>
<path d="M584.10,82.20 L584.40,86.30 L586.10,84.60 L587.50,82.20 L588.80,82.90 L590.20,81.80 L591.60,81.50 L594.00,81.40 L597.00,80.80 L597.50,80.80 L598.00,80.80 L598.50,80.80 L599.00,80.80 L599.50,80.79 L600.00,80.77 L600.50,80.72 L601.00,80.64 L601.50,80.52 L602.00,80.36 L602.50,80.18 L603.00,79.96 L603.50,79.73 L604.00,79.49 L604.50,79.24 L605.00,78.98 L605.50,78.71 L606.00,78.41 L606.50,78.09 L607.00,77.74 L607.50,77.36 L608.00,76.96 L608.50,76.54 L609.00,76.10 L609.50,75.64 L610.00,75.16 L610.50,74.66 L611.00,74.13 L611.50,73.57 L612.00,72.96 L612.50,72.32 L613.00,71.64 L613.50,70.94 L614.00,70.22 L614.50,69.47 L615.00,68.70 L615.50,67.90 L616.00,67.07 L616.50,66.21 L617.00,65.32 L617.50,64.39 L618.00,63.43 L618.50,62.43 L619.00,61.38 L619.50,60.28 L620.00,59.16 L620.50,58.03 L621.00,56.88 L621.50,55.70 L622.00,54.42 L622.50,52.97 L623.00,51.28 L623.50,49.33 L624.00,47.09 L624.50,44.59 L625.00,41.90 L625.50,39.11 L626.00,36.28 L626.50,33.48 L627.00,30.78 L627.50,28.28 L628.00,26.07 L628.50,24.19 L629.00,22.68 L629.50,21.50 L630.00,20.64 L630.50,20.09 L631.00,19.88 L631.50,20.05 L632.00,20.64 L632.50,21.66 L633.00,23.09 L633.50,24.96 L634.00,27.26 L634.50,29.95 L635.00,32.95 L635.50,36.21 L636.00,39.68 L636.50,43.25 L637.00,46.81 L637.50,50.24 L638.00,53.53 L638.50,56.69 L639.00,59.72 L639.50,62.60 L640.00,65.28 L640.50,67.68 L641.00,69.77 L641.50,71.55 L642.00,73.06 L642.50,74.37 L643.00,75.51 L643.50,76.52 L644.00,77.40 L644.50,78.18 L645.00,78.86 L645.50,79.48 L646.00,80.04 L646.50,80.56 L647.00,81.04 L647.50,81.49 L648.00,81.90 L648.50,82.28 L649.00,82.62 L649.50,82.94 L650.00,83.22 L650.50,83.47 L651.00,83.70 L651.50,83.92 L652.00,84.12 L652.50,84.31 L653.00,84.49 L653.50,84.66 L654.00,84.82 L654.50,84.97 L655.00,85.11 L655.50,85.24 L656.00,85.37 L656.50,85.49 L657.00,85.60 L657.50,85.70 L658.00,85.80 L658.50,85.89 L659.00,85.99 L659.50,86.08 L660.00,86.16 L660.50,86.25 L661.00,86.33 L661.50,86.40 L662.00,86.46 L662.50,86.51 L663.00,86.55 L663.50,86.57 L664.00,86.59 L664.50,86.60 L665.00,86.60 L665.50,86.60 L666.00,86.60 L666.50,86.60 L667.00,86.60 L667.50,86.59 L668.00,86.59 L668.50,86.59 L669.00,86.59 L669.50,86.58 L670.00,86.58 L670.50,86.58 L671.00,86.57 L671.50,86.57 L672.00,86.57 L672.50,86.56 L673.00,86.56 L673.50,86.55 L674.00,86.55 L674.50,86.54 L675.00,86.54 L675.50,86.53 L676.00,86.52 L676.50,86.52 L677.00,86.51 L677.50,86.50 L678.00,86.49 L678.50,86.49 L679.00,86.48 L679.50,86.47 L680.00,86.46 L680.50,86.45 L681.00,86.44 L681.50,86.43 L682.00,86.42 L682.50,86.40 L683.00,86.38 L683.50,86.36 L684.00,86.32 L684.50,86.28 L685.00,86.22 L685.50,86.16 L686.00,86.10 L686.50,86.02 L687.00,85.95 L687.50,85.87 L688.00,85.79 L688.50,85.70 L689.00,85.60 L689.50,85.49 L690.00,85.38 L690.50,85.27 L691.00,85.16 L691.50,85.06 L692.00,84.96 L692.50,84.88 L693.00,84.81 L693.50,84.74 L694.00,84.67 L694.50,84.61 L695.00,84.55 L695.50,84.50 L696.00,84.45 L696.50,84.41 L697.00,84.37 L697.50,84.34 L698.00,84.32" fill="none" stroke="#ff0000" stroke-width="1.4" stroke-linejoin="round"/>
</svg>
</body></html>
